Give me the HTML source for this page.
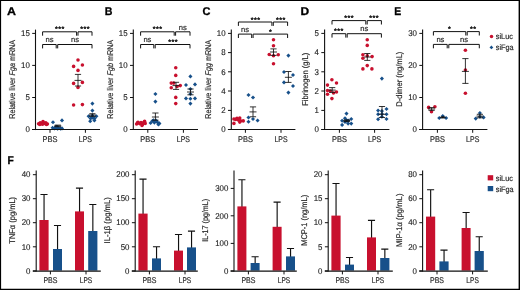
<!DOCTYPE html>
<html lang="en">
<head>
<meta charset="utf-8">
<title>Figure</title>
<style>
html,body{margin:0;padding:0;background:#fff;}
body{width:520px;height:290px;overflow:hidden;position:relative;}
svg{position:absolute;left:0;top:0;display:block;}
text{font-family:"Liberation Sans",sans-serif;text-anchor:middle;text-rendering:geometricPrecision;}
.t{fill:#2b2b2b;stroke:#2b2b2b;stroke-width:.2px;}
.k{fill:#1a1a1a;stroke:#1a1a1a;stroke-width:.12px;}
.h{fill:#000;font-weight:bold;stroke:#000;stroke-width:.3px;}
.j{stroke:#2a2a2a;stroke-linejoin:round;}
.st{fill:#1a1a1a;stroke:#1a1a1a;stroke-width:.42px;stroke-linejoin:round;letter-spacing:.45px;}
.e{text-anchor:end;}
.s{text-anchor:start;}
.l{fill:none;stroke:#111;}
.r{fill:#c8102e;}
.b{fill:#17508a;}
</style>
</head>
<body>
<svg width="520" height="290" viewBox="0 0 520 290">
<rect x="0" y="0" width="520" height="290" fill="#fff"/>
<circle class="r" cx="78" cy="60" r="1.78"/>
<circle class="r" cx="73.6" cy="66.4" r="1.78"/>
<circle class="r" cx="82.4" cy="65" r="1.78"/>
<circle class="r" cx="78" cy="70.4" r="1.78"/>
<circle class="r" cx="73.6" cy="83.4" r="1.78"/>
<circle class="r" cx="82.4" cy="82.4" r="1.78"/>
<circle class="r" cx="78" cy="87.4" r="1.78"/>
<circle class="r" cx="73.6" cy="105" r="1.78"/>
<circle class="r" cx="82.4" cy="104.6" r="1.78"/>
<path class="b" d="M92.4 101.55L94.45 103.6L92.4 105.65L90.35 103.6Z"/>
<path class="b" d="M92.4 108.55L94.45 110.6L92.4 112.65L90.35 110.6Z"/>
<path class="b" d="M88.6 114.15L90.65 116.2L88.6 118.25L86.55 116.2Z"/>
<path class="b" d="M92.4 113.55L94.45 115.6L92.4 117.65L90.35 115.6Z"/>
<path class="b" d="M96.4 114.15L98.45 116.2L96.4 118.25L94.35 116.2Z"/>
<path class="b" d="M90.6 116.35L92.65 118.4L90.6 120.45L88.55 118.4Z"/>
<path class="b" d="M94.6 116.35L96.65 118.4L94.6 120.45L92.55 118.4Z"/>
<path class="b" d="M90.2 119.15L92.25 121.2L90.2 123.25L88.15 121.2Z"/>
<path class="b" d="M94.4 118.35L96.45 120.4L94.4 122.45L92.35 120.4Z"/>
<path class="b" d="M92.4 115.55L94.45 117.6L92.4 119.65L90.35 117.6Z"/>
<circle class="r" cx="38.6" cy="123.8" r="1.78"/>
<circle class="r" cx="40.2" cy="122.8" r="1.78"/>
<circle class="r" cx="41.8" cy="123.6" r="1.78"/>
<circle class="r" cx="43" cy="121.6" r="1.78"/>
<circle class="r" cx="44.4" cy="123.4" r="1.78"/>
<circle class="r" cx="45.8" cy="122.8" r="1.78"/>
<circle class="r" cx="47.4" cy="124" r="1.78"/>
<circle class="r" cx="42.6" cy="124.2" r="1.78"/>
<circle class="r" cx="39.8" cy="124.4" r="1.78"/>
<circle class="r" cx="46.4" cy="124.4" r="1.78"/>
<path class="b" d="M53 120.15L55.05 122.2L53 124.25L50.95 122.2Z"/>
<path class="b" d="M62 118.35L64.05 120.4L62 122.45L59.95 120.4Z"/>
<path class="b" d="M52.6 125.75L54.65 127.8L52.6 129.85L50.55 127.8Z"/>
<path class="b" d="M54.6 126.35L56.65 128.4L54.6 130.45L52.55 128.4Z"/>
<path class="b" d="M56.6 124.75L58.65 126.8L56.6 128.85L54.55 126.8Z"/>
<path class="b" d="M58.6 125.95L60.65 128L58.6 130.05L56.55 128Z"/>
<path class="b" d="M60.6 126.55L62.65 128.6L60.6 130.65L58.55 128.6Z"/>
<path class="b" d="M57.6 126.75L59.65 128.8L57.6 130.85L55.55 128.8Z"/>
<path class="b" d="M55.6 125.15L57.65 127.2L55.6 129.25L53.55 127.2Z"/>
<path class="b" d="M62 126.35L64.05 128.4L62 130.45L59.95 128.4Z"/>
<circle class="r" cx="175.75" cy="67.75" r="1.78"/>
<circle class="r" cx="175.75" cy="75.4" r="1.78"/>
<circle class="r" cx="171.25" cy="83.1" r="1.78"/>
<circle class="r" cx="173.75" cy="83.1" r="1.78"/>
<circle class="r" cx="177.1" cy="86.5" r="1.78"/>
<circle class="r" cx="180.25" cy="85.6" r="1.78"/>
<circle class="r" cx="171.25" cy="87.75" r="1.78"/>
<circle class="r" cx="175.75" cy="97.4" r="1.78"/>
<circle class="r" cx="175.75" cy="103.6" r="1.78"/>
<path class="b" d="M190.4 74.35L192.45 76.4L190.4 78.45L188.35 76.4Z"/>
<path class="b" d="M186 82.95L188.05 85L186 87.05L183.95 85Z"/>
<path class="b" d="M195 82.35L197.05 84.4L195 86.45L192.95 84.4Z"/>
<path class="b" d="M190.4 86.95L192.45 89L190.4 91.05L188.35 89Z"/>
<path class="b" d="M190.4 91.95L192.45 94L190.4 96.05L188.35 94Z"/>
<path class="b" d="M186 96.35L188.05 98.4L186 100.45L183.95 98.4Z"/>
<path class="b" d="M195 96.35L197.05 98.4L195 100.45L192.95 98.4Z"/>
<path class="b" d="M190.4 96.75L192.45 98.8L190.4 100.85L188.35 98.8Z"/>
<path class="b" d="M190.4 101.55L192.45 103.6L190.4 105.65L188.35 103.6Z"/>
<path class="b" d="M155.4 91.95L157.45 94L155.4 96.05L153.35 94Z"/>
<path class="b" d="M155.4 99.55L157.45 101.6L155.4 103.65L153.35 101.6Z"/>
<path class="b" d="M150.6 120.95L152.65 123L150.6 125.05L148.55 123Z"/>
<path class="b" d="M152.4 118.95L154.45 121L152.4 123.05L150.35 121Z"/>
<path class="b" d="M154.4 120.55L156.45 122.6L154.4 124.65L152.35 122.6Z"/>
<path class="b" d="M156 118.55L158.05 120.6L156 122.65L153.95 120.6Z"/>
<path class="b" d="M157.6 120.35L159.65 122.4L157.6 124.45L155.55 122.4Z"/>
<path class="b" d="M159.4 121.35L161.45 123.4L159.4 125.45L157.35 123.4Z"/>
<path class="b" d="M153.4 118.15L155.45 120.2L153.4 122.25L151.35 120.2Z"/>
<path class="b" d="M158.4 122.35L160.45 124.4L158.4 126.45L156.35 124.4Z"/>
<circle class="r" cx="136.6" cy="124" r="1.78"/>
<circle class="r" cx="138" cy="122.4" r="1.78"/>
<circle class="r" cx="139.6" cy="123.6" r="1.78"/>
<circle class="r" cx="141" cy="122.6" r="1.78"/>
<circle class="r" cx="142.4" cy="124.4" r="1.78"/>
<circle class="r" cx="143.8" cy="122.4" r="1.78"/>
<circle class="r" cx="145.2" cy="123.4" r="1.78"/>
<circle class="r" cx="142" cy="125.4" r="1.78"/>
<circle class="r" cx="144.6" cy="121.4" r="1.78"/>
<circle class="r" cx="137.6" cy="122.8" r="1.78"/>
<circle class="r" cx="273.5" cy="39.75" r="1.78"/>
<circle class="r" cx="273.5" cy="45.75" r="1.78"/>
<circle class="r" cx="269.25" cy="54.5" r="1.78"/>
<circle class="r" cx="273.5" cy="55.75" r="1.78"/>
<circle class="r" cx="278.25" cy="54.75" r="1.78"/>
<circle class="r" cx="273.5" cy="63.75" r="1.78"/>
<path class="b" d="M288.4 53.55L290.45 55.6L288.4 57.65L286.35 55.6Z"/>
<path class="b" d="M284 69.95L286.05 72L284 74.05L281.95 72Z"/>
<path class="b" d="M293 72.95L295.05 75L293 77.05L290.95 75Z"/>
<path class="b" d="M284 80.35L286.05 82.4L284 84.45L281.95 82.4Z"/>
<path class="b" d="M293 83.95L295.05 86L293 88.05L290.95 86Z"/>
<path class="b" d="M288.4 90.55L290.45 92.6L288.4 94.65L286.35 92.6Z"/>
<path class="b" d="M248.5 92.95L250.55 95L248.5 97.05L246.45 95Z"/>
<path class="b" d="M253 95.45L255.05 97.5L253 99.55L250.95 97.5Z"/>
<path class="b" d="M248.5 115.45L250.55 117.5L248.5 119.55L246.45 117.5Z"/>
<path class="b" d="M253 116.95L255.05 119L253 121.05L250.95 119Z"/>
<path class="b" d="M257.6 118.45L259.65 120.5L257.6 122.55L255.55 120.5Z"/>
<path class="b" d="M248.5 119.7L250.55 121.75L248.5 123.8L246.45 121.75Z"/>
<circle class="r" cx="233.9" cy="119" r="1.78"/>
<circle class="r" cx="237" cy="118.4" r="1.78"/>
<circle class="r" cx="239.75" cy="118" r="1.78"/>
<circle class="r" cx="238.25" cy="120" r="1.78"/>
<circle class="r" cx="240.5" cy="120.9" r="1.78"/>
<circle class="r" cx="243.25" cy="120.9" r="1.78"/>
<circle class="r" cx="233.9" cy="123.4" r="1.78"/>
<circle class="r" cx="239.75" cy="122.1" r="1.78"/>
<circle class="r" cx="235.6" cy="119.4" r="1.78"/>
<circle class="r" cx="367.25" cy="39.75" r="1.78"/>
<circle class="r" cx="367.25" cy="45.4" r="1.78"/>
<circle class="r" cx="362.9" cy="54.75" r="1.78"/>
<circle class="r" cx="367.25" cy="55.75" r="1.78"/>
<circle class="r" cx="372.1" cy="56.6" r="1.78"/>
<circle class="r" cx="362.9" cy="58.25" r="1.78"/>
<circle class="r" cx="367.25" cy="65.6" r="1.78"/>
<circle class="r" cx="362.9" cy="68.9" r="1.78"/>
<circle class="r" cx="371.9" cy="68.9" r="1.78"/>
<path class="b" d="M381.9 76.55L383.95 78.6L381.9 80.65L379.85 78.6Z"/>
<path class="b" d="M378.1 108.45L380.15 110.5L378.1 112.55L376.05 110.5Z"/>
<path class="b" d="M381.9 109.05L383.95 111.1L381.9 113.15L379.85 111.1Z"/>
<path class="b" d="M386.5 106.95L388.55 109L386.5 111.05L384.45 109Z"/>
<path class="b" d="M378.1 112.2L380.15 114.25L378.1 116.3L376.05 114.25Z"/>
<path class="b" d="M381.9 114.7L383.95 116.75L381.9 118.8L379.85 116.75Z"/>
<path class="b" d="M386.5 112.2L388.55 114.25L386.5 116.3L384.45 114.25Z"/>
<path class="b" d="M378.1 117.2L380.15 119.25L378.1 121.3L376.05 119.25Z"/>
<path class="b" d="M386.5 116.95L388.55 119L386.5 121.05L384.45 119Z"/>
<path class="b" d="M382 111.95L384.05 114L382 116.05L379.95 114Z"/>
<circle class="r" cx="331.9" cy="79.75" r="1.78"/>
<circle class="r" cx="336.5" cy="83" r="1.78"/>
<circle class="r" cx="327.5" cy="85.1" r="1.78"/>
<circle class="r" cx="327.5" cy="90.5" r="1.78"/>
<circle class="r" cx="330.25" cy="91" r="1.78"/>
<circle class="r" cx="333.5" cy="93" r="1.78"/>
<circle class="r" cx="336.5" cy="92" r="1.78"/>
<circle class="r" cx="327.5" cy="94.25" r="1.78"/>
<circle class="r" cx="331.9" cy="98.6" r="1.78"/>
<path class="b" d="M346.5 111.55L348.55 113.6L346.5 115.65L344.45 113.6Z"/>
<path class="b" d="M345 116.2L347.05 118.25L345 120.3L342.95 118.25Z"/>
<path class="b" d="M351.25 116.95L353.3 119L351.25 121.05L349.2 119Z"/>
<path class="b" d="M342.1 118.7L344.15 120.75L342.1 122.8L340.05 120.75Z"/>
<path class="b" d="M348.1 118.45L350.15 120.5L348.1 122.55L346.05 120.5Z"/>
<path class="b" d="M345 119.95L347.05 122L345 124.05L342.95 122Z"/>
<path class="b" d="M348.1 121.55L350.15 123.6L348.1 125.65L346.05 123.6Z"/>
<path class="b" d="M351.25 121.55L353.3 123.6L351.25 125.65L349.2 123.6Z"/>
<path class="b" d="M342.1 122.85L344.15 124.9L342.1 126.95L340.05 124.9Z"/>
<path class="b" d="M346.6 118.35L348.65 120.4L346.6 122.45L344.55 120.4Z"/>
<circle class="r" cx="465.4" cy="50.2" r="1.78"/>
<circle class="r" cx="465.4" cy="70" r="1.78"/>
<circle class="r" cx="465.4" cy="93.2" r="1.78"/>
<path class="b" d="M475.75 116.55L477.8 118.6L475.75 120.65L473.7 118.6Z"/>
<path class="b" d="M479.9 110.95L481.95 113L479.9 115.05L477.85 113Z"/>
<path class="b" d="M483.6 115.35L485.65 117.4L483.6 119.45L481.55 117.4Z"/>
<path class="b" d="M479.9 114.7L481.95 116.75L479.9 118.8L477.85 116.75Z"/>
<circle class="r" cx="428.6" cy="107.4" r="1.78"/>
<circle class="r" cx="434.9" cy="106.75" r="1.78"/>
<circle class="r" cx="431.5" cy="111.75" r="1.78"/>
<path class="b" d="M439.25 115.95L441.3 118L439.25 120.05L437.2 118Z"/>
<path class="b" d="M442.75 114.05L444.8 116.1L442.75 118.15L440.7 116.1Z"/>
<path class="b" d="M446.1 115.95L448.15 118L446.1 120.05L444.05 118Z"/>
<circle class="r" cx="491.5" cy="36.6" r="1.75"/>
<path class="b" d="M491.4 45.5L493.3 47.4L491.4 49.3L489.5 47.4Z"/>
<path class="l" d="M74.5 80.4H81.5M78 74.4V86M74.9 74.4H81.1M74.9 86H81.1" stroke-width="0.85"/>
<path class="l" d="M88.9 115H95.9M92.4 113.7V116.4M89.3 113.7H95.5M89.3 116.4H95.5" stroke-width="0.85"/>
<path class="l" d="M54.3 125.9H61.3M57.8 125.1V126.7M54.7 125.1H60.9M54.7 126.7H60.9" stroke-width="0.85"/>
<path class="l" d="M172.5 85.6H179.5M176 82.3V89.4M172.9 82.3H179.1M172.9 89.4H179.1" stroke-width="0.85"/>
<path class="l" d="M187 92H194M190.5 89V94.8M187.4 89H193.6M187.4 94.8H193.6" stroke-width="0.85"/>
<path class="l" d="M151.9 117H158.9M155.4 113V120.2M152.3 113H158.5M152.3 120.2H158.5" stroke-width="0.85"/>
<path class="l" d="M270 52H277M273.5 48.9V55.4M270.4 48.9H276.6M270.4 55.4H276.6" stroke-width="0.85"/>
<path class="l" d="M284.9 77.3H291.9M288.4 71.5V82.4M285.3 71.5H291.5M285.3 82.4H291.5" stroke-width="0.85"/>
<path class="l" d="M249.5 111.9H256.5M253 106.9V116.75M249.9 106.9H256.1M249.9 116.75H256.1" stroke-width="0.85"/>
<path class="l" d="M363.8 57H370.8M367.3 53.5V60.4M364.2 53.5H370.4M364.2 60.4H370.4" stroke-width="0.85"/>
<path class="l" d="M378.5 114.25H385.5M382 106.5V117.5M378.9 106.5H385.1M378.9 117.5H385.1" stroke-width="0.85"/>
<path class="l" d="M328.7 90.1H335.7M332.2 87.6V92.4M329.1 87.6H335.3M329.1 92.4H335.3" stroke-width="0.85"/>
<path class="l" d="M343.3 120.75H350.3M346.8 119.9V121.6M343.7 119.9H349.9M343.7 121.6H349.9" stroke-width="0.85"/>
<path class="l" d="M461.9 71.4H468.9M465.4 58.6V83.4M462.3 58.6H468.5M462.3 83.4H468.5" stroke-width="0.85"/>
<path class="l" d="M476.4 116.1H483.4M479.9 114.3V117.8M476.8 114.3H483M476.8 117.8H483" stroke-width="0.85"/>
<path class="l" d="M428.1 109H435.1M431.6 107.6V110.4M428.5 107.6H434.7M428.5 110.4H434.7" stroke-width="0.85"/>
<path class="l" d="M439.8 117.4H445.8M442.8 116.8V118M440.8 116.8H444.8M440.8 118H444.8" stroke-width="0.85"/>
<text class="h s" transform="translate(7,15.1) scale(1.11,1)" font-size="11.2">A</text>
<text class="h s" transform="translate(104.7,15.1) scale(0.95,1)" font-size="11.2">B</text>
<text class="h s" transform="translate(202.45,15.1) scale(0.98,1)" font-size="11.2">C</text>
<text class="h s" transform="translate(300.4,15.1) scale(1.07,1)" font-size="11.2">D</text>
<text class="h s" transform="translate(394.2,15.1) scale(0.93,1)" font-size="11.2">E</text>
<text class="h s" transform="translate(7.5,164.3) scale(0.92,1)" font-size="11.2">F</text>
<path class="l" d="M35.5 29.6L35.5 130.05" stroke-width="1.1"/>
<path class="l" d="M32.2 33.4L35.5 33.4" stroke-width="1.0"/>
<text class="k e" transform="translate(29.8,36.1) scale(0.95,1)" font-size="8.3">15</text>
<path class="l" d="M32.2 65.4L35.5 65.4" stroke-width="1.0"/>
<text class="k e" transform="translate(29.8,68.1) scale(0.95,1)" font-size="8.3">10</text>
<path class="l" d="M32.2 97.5L35.5 97.5" stroke-width="1.0"/>
<text class="k e" transform="translate(29.8,100.2) scale(0.95,1)" font-size="8.3">5</text>
<path class="l" d="M32.2 129.5L35.5 129.5" stroke-width="1.0"/>
<text class="k e" transform="translate(29.8,132.2) scale(0.95,1)" font-size="8.3">0</text>
<path class="l" d="M32.1 129.5L100 129.5" stroke-width="1.1"/>
<path class="l" d="M50 129.5L50 132.8" stroke-width="1.0"/>
<text class="t" transform="translate(50,141.8) scale(0.897,1)" font-size="8.3">PBS</text>
<path class="l" d="M85.4 129.5L85.4 132.8" stroke-width="1.0"/>
<text class="t" transform="translate(85.4,141.8) scale(0.841,1)" font-size="8.3">LPS</text>
<text class="t" transform="translate(15.2,79.3) rotate(-90) scale(0.869,1)" font-size="8.3">Relative liver <tspan font-style="italic">Fga</tspan> mRNA</text>
<path class="l j" d="M42.6 35.7V31.8H76.6V35.7" stroke-width="1.0"/>
<path class="l j" d="M78 35.7V31.8H92V35.7" stroke-width="1.0"/>
<path class="l j" d="M42.6 48.4V44.5H56.2V48.4" stroke-width="1.0"/>
<path class="l j" d="M57.7 48.4V44.5H92V48.4" stroke-width="1.0"/>
<text class="st" transform="translate(59.8,31.42) scale(1.08,1)" font-size="6.6">***</text>
<text class="st" transform="translate(85.2,31.42) scale(1.08,1)" font-size="6.6">***</text>
<text class="t" transform="translate(49.6,42)" font-size="7.6">ns</text>
<text class="t" transform="translate(75,42)" font-size="7.6">ns</text>
<path class="l" d="M133.3 29.6L133.3 130.05" stroke-width="1.1"/>
<path class="l" d="M130 33.4L133.3 33.4" stroke-width="1.0"/>
<text class="k e" transform="translate(127.6,36.1) scale(0.95,1)" font-size="8.3">15</text>
<path class="l" d="M130 65.4L133.3 65.4" stroke-width="1.0"/>
<text class="k e" transform="translate(127.6,68.1) scale(0.95,1)" font-size="8.3">10</text>
<path class="l" d="M130 97.5L133.3 97.5" stroke-width="1.0"/>
<text class="k e" transform="translate(127.6,100.2) scale(0.95,1)" font-size="8.3">5</text>
<path class="l" d="M130 129.5L133.3 129.5" stroke-width="1.0"/>
<text class="k e" transform="translate(127.6,132.2) scale(0.95,1)" font-size="8.3">0</text>
<path class="l" d="M129.9 129.5L198 129.5" stroke-width="1.1"/>
<path class="l" d="M147.8 129.5L147.8 132.8" stroke-width="1.0"/>
<text class="t" transform="translate(147.8,141.8) scale(0.897,1)" font-size="8.3">PBS</text>
<path class="l" d="M183.4 129.5L183.4 132.8" stroke-width="1.0"/>
<text class="t" transform="translate(183.4,141.8) scale(0.841,1)" font-size="8.3">LPS</text>
<text class="t" transform="translate(113,79.3) rotate(-90) scale(0.869,1)" font-size="8.3">Relative liver <tspan font-style="italic">Fgb</tspan> mRNA</text>
<path class="l j" d="M140.6 35.7V31.8H174.2V35.7" stroke-width="1.0"/>
<path class="l j" d="M175.6 35.7V31.8H190V35.7" stroke-width="1.0"/>
<path class="l j" d="M140.6 48.4V44.5H153.8V48.4" stroke-width="1.0"/>
<path class="l j" d="M155.2 48.4V44.5H190V48.4" stroke-width="1.0"/>
<text class="st" transform="translate(157.6,31.42) scale(1.08,1)" font-size="6.6">***</text>
<text class="t" transform="translate(182.8,29.8)" font-size="7.6">ns</text>
<text class="t" transform="translate(147.4,42)" font-size="7.6">ns</text>
<text class="st" transform="translate(173.2,44.02) scale(1.08,1)" font-size="6.6">***</text>
<path class="l" d="M231.3 29.6L231.3 130.05" stroke-width="1.1"/>
<path class="l" d="M228 33.4L231.3 33.4" stroke-width="1.0"/>
<text class="k e" transform="translate(225.6,36.1) scale(0.95,1)" font-size="8.3">10</text>
<path class="l" d="M228 52.6L231.3 52.6" stroke-width="1.0"/>
<text class="k e" transform="translate(225.6,55.3) scale(0.95,1)" font-size="8.3">8</text>
<path class="l" d="M228 71.8L231.3 71.8" stroke-width="1.0"/>
<text class="k e" transform="translate(225.6,74.5) scale(0.95,1)" font-size="8.3">6</text>
<path class="l" d="M228 91L231.3 91" stroke-width="1.0"/>
<text class="k e" transform="translate(225.6,93.7) scale(0.95,1)" font-size="8.3">4</text>
<path class="l" d="M228 110.4L231.3 110.4" stroke-width="1.0"/>
<text class="k e" transform="translate(225.6,113.1) scale(0.95,1)" font-size="8.3">2</text>
<path class="l" d="M228 129.5L231.3 129.5" stroke-width="1.0"/>
<text class="k e" transform="translate(225.6,132.2) scale(0.95,1)" font-size="8.3">0</text>
<path class="l" d="M227.9 129.5L295.4 129.5" stroke-width="1.1"/>
<path class="l" d="M245.4 129.5L245.4 132.8" stroke-width="1.0"/>
<text class="t" transform="translate(245.4,141.8) scale(0.897,1)" font-size="8.3">PBS</text>
<path class="l" d="M281 129.5L281 132.8" stroke-width="1.0"/>
<text class="t" transform="translate(281,141.8) scale(0.841,1)" font-size="8.3">LPS</text>
<text class="t" transform="translate(211,79.3) rotate(-90) scale(0.869,1)" font-size="8.3">Relative liver <tspan font-style="italic">Fgg</tspan> mRNA</text>
<path class="l j" d="M238.4 25.9V22H271.9V25.9" stroke-width="1.0"/>
<path class="l j" d="M273.3 25.9V22H287.6V25.9" stroke-width="1.0"/>
<path class="l j" d="M238.4 38V34.1H251.7V38" stroke-width="1.0"/>
<path class="l j" d="M253.1 38V34.1H287.6V38" stroke-width="1.0"/>
<text class="st" transform="translate(255.6,21.92) scale(1.08,1)" font-size="6.6">***</text>
<text class="st" transform="translate(280.8,21.92) scale(1.08,1)" font-size="6.6">***</text>
<text class="t" transform="translate(245.1,32)" font-size="7.6">ns</text>
<text class="st" transform="translate(270.6,33.72) scale(1.08,1)" font-size="6.6">*</text>
<path class="l" d="M324.6 29.6L324.6 130.05" stroke-width="1.1"/>
<path class="l" d="M321.3 33.4L324.6 33.4" stroke-width="1.0"/>
<text class="k e" transform="translate(318.9,36.1) scale(0.95,1)" font-size="8.3">5</text>
<path class="l" d="M321.3 52.6L324.6 52.6" stroke-width="1.0"/>
<text class="k e" transform="translate(318.9,55.3) scale(0.95,1)" font-size="8.3">4</text>
<path class="l" d="M321.3 71.8L324.6 71.8" stroke-width="1.0"/>
<text class="k e" transform="translate(318.9,74.5) scale(0.95,1)" font-size="8.3">3</text>
<path class="l" d="M321.3 91L324.6 91" stroke-width="1.0"/>
<text class="k e" transform="translate(318.9,93.7) scale(0.95,1)" font-size="8.3">2</text>
<path class="l" d="M321.3 110.4L324.6 110.4" stroke-width="1.0"/>
<text class="k e" transform="translate(318.9,113.1) scale(0.95,1)" font-size="8.3">1</text>
<path class="l" d="M321.3 129.5L324.6 129.5" stroke-width="1.0"/>
<text class="k e" transform="translate(318.9,132.2) scale(0.95,1)" font-size="8.3">0</text>
<path class="l" d="M321.2 129.5L389.4 129.5" stroke-width="1.1"/>
<path class="l" d="M339.4 129.5L339.4 132.8" stroke-width="1.0"/>
<text class="t" transform="translate(339.4,141.8) scale(0.897,1)" font-size="8.3">PBS</text>
<path class="l" d="M374.6 129.5L374.6 132.8" stroke-width="1.0"/>
<text class="t" transform="translate(374.6,141.8) scale(0.841,1)" font-size="8.3">LPS</text>
<text class="t" transform="translate(308.2,79.3) rotate(-90) scale(0.905,1)" font-size="8.3">Fibrinogen (g/L)</text>
<path class="l j" d="M332 24.5V20.6H365.8V24.5" stroke-width="1.0"/>
<path class="l j" d="M367.2 24.5V20.6H381.4V24.5" stroke-width="1.0"/>
<path class="l j" d="M332 37.6V33.7H345.8V37.6" stroke-width="1.0"/>
<path class="l j" d="M347.2 37.6V33.7H381.4V37.6" stroke-width="1.0"/>
<text class="st" transform="translate(349.2,20.22) scale(1.08,1)" font-size="6.6">***</text>
<text class="st" transform="translate(374.2,20.22) scale(1.08,1)" font-size="6.6">***</text>
<text class="st" transform="translate(338.8,33.12) scale(1.08,1)" font-size="6.6">***</text>
<text class="t" transform="translate(364.3,31)" font-size="7.6">ns</text>
<path class="l" d="M422.6 29.6L422.6 130.05" stroke-width="1.1"/>
<path class="l" d="M419.3 33.4L422.6 33.4" stroke-width="1.0"/>
<text class="k e" transform="translate(416.9,36.1) scale(0.95,1)" font-size="8.3">30</text>
<path class="l" d="M419.3 65.4L422.6 65.4" stroke-width="1.0"/>
<text class="k e" transform="translate(416.9,68.1) scale(0.95,1)" font-size="8.3">20</text>
<path class="l" d="M419.3 97.5L422.6 97.5" stroke-width="1.0"/>
<text class="k e" transform="translate(416.9,100.2) scale(0.95,1)" font-size="8.3">10</text>
<path class="l" d="M419.3 129.5L422.6 129.5" stroke-width="1.0"/>
<text class="k e" transform="translate(416.9,132.2) scale(0.95,1)" font-size="8.3">0</text>
<path class="l" d="M419.2 129.5L487.4 129.5" stroke-width="1.1"/>
<path class="l" d="M437.4 129.5L437.4 132.8" stroke-width="1.0"/>
<text class="t" transform="translate(437.4,141.8) scale(0.897,1)" font-size="8.3">PBS</text>
<path class="l" d="M472.7 129.5L472.7 132.8" stroke-width="1.0"/>
<text class="t" transform="translate(472.7,141.8) scale(0.841,1)" font-size="8.3">LPS</text>
<text class="t" transform="translate(402,79.2) rotate(-90) scale(0.914,1)" font-size="8.3">D-dimer (ng/mL)</text>
<path class="l j" d="M433.4 35.5V31.6H465.8V35.5" stroke-width="1.0"/>
<path class="l j" d="M467.2 35.5V31.6H479.3V35.5" stroke-width="1.0"/>
<path class="l j" d="M433.4 48.3V44.4H447.2V48.3" stroke-width="1.0"/>
<path class="l j" d="M448.8 48.3V44.4H479.3V48.3" stroke-width="1.0"/>
<text class="st" transform="translate(449.6,31.12) scale(1.08,1)" font-size="6.6">*</text>
<text class="st" transform="translate(473.2,31.12) scale(1.08,1)" font-size="6.6">**</text>
<text class="t" transform="translate(440.4,42)" font-size="7.6">ns</text>
<text class="t" transform="translate(464,42)" font-size="7.6">ns</text>
<text class="t s" transform="translate(495.8,39.4) scale(0.945,1)" font-size="7.8">siLuc</text>
<text class="t s" transform="translate(495.8,50.2) scale(0.933,1)" font-size="7.8">siFga</text>
<path class="l" d="M44.05 194.5V220.5M40.45 194.5H47.55" stroke-width="1.15"/>
<rect class="r" x="39.4" y="220" width="9.2" height="50.6"/>
<path class="l" d="M57.55 225.5V249.5M53.95 225.5H61.05" stroke-width="1.15"/>
<rect class="b" x="53" y="249" width="9" height="21.6"/>
<path class="l" d="M79.55 188.1V211.9M75.95 188.1H83.05" stroke-width="1.15"/>
<rect class="r" x="75" y="211.4" width="9" height="59.2"/>
<path class="l" d="M92.85 204.5V231.5M89.25 204.5H96.35" stroke-width="1.15"/>
<rect class="b" x="88.2" y="231" width="9.2" height="39.6"/>
<path class="l" d="M36.2 170.4L36.2 271.45" stroke-width="1.1"/>
<path class="l" d="M32.9 174.7L36.2 174.7" stroke-width="1.0"/>
<text class="k e" transform="translate(30.5,177.45) scale(0.95,1)" font-size="8.3">40</text>
<path class="l" d="M32.9 198.7L36.2 198.7" stroke-width="1.0"/>
<text class="k e" transform="translate(30.5,201.45) scale(0.95,1)" font-size="8.3">30</text>
<path class="l" d="M32.9 222.7L36.2 222.7" stroke-width="1.0"/>
<text class="k e" transform="translate(30.5,225.45) scale(0.95,1)" font-size="8.3">20</text>
<path class="l" d="M32.9 246.8L36.2 246.8" stroke-width="1.0"/>
<text class="k e" transform="translate(30.5,249.55) scale(0.95,1)" font-size="8.3">10</text>
<path class="l" d="M32.9 270.9L36.2 270.9" stroke-width="1.0"/>
<text class="k e" transform="translate(30.5,273.65) scale(0.95,1)" font-size="8.3">0</text>
<path class="l" d="M32.8 271.1L100.8 271.1" stroke-width="1.1"/>
<path class="l" d="M50.4 271.1L50.4 274.4" stroke-width="1.0"/>
<text class="t" transform="translate(50.4,283.2) scale(0.843,1)" font-size="8.3">PBS</text>
<path class="l" d="M86 271.1L86 274.4" stroke-width="1.0"/>
<text class="t" transform="translate(86,283.2) scale(0.797,1)" font-size="8.3">LPS</text>
<text class="t" transform="translate(15.2,220.3) rotate(-90) scale(0.903,1)" font-size="8.3">TNF&#945; (pg/mL)</text>
<path class="l" d="M143.05 179.1V214.1M139.45 179.1H146.55" stroke-width="1.15"/>
<rect class="r" x="138.4" y="213.6" width="9.2" height="57"/>
<path class="l" d="M156.55 246.7V258.9M152.95 246.7H160.05" stroke-width="1.15"/>
<rect class="b" x="152" y="258.4" width="9" height="12.2"/>
<path class="l" d="M178.55 234.5V251.1M174.95 234.5H182.05" stroke-width="1.15"/>
<rect class="r" x="174" y="250.6" width="9" height="20"/>
<path class="l" d="M191.55 231.1V247.9M187.95 231.1H195.05" stroke-width="1.15"/>
<rect class="b" x="187" y="247.4" width="9" height="23.2"/>
<path class="l" d="M135.2 170.4L135.2 271.45" stroke-width="1.1"/>
<path class="l" d="M131.9 174.7L135.2 174.7" stroke-width="1.0"/>
<text class="k e" transform="translate(129.5,177.45) scale(0.95,1)" font-size="8.3">200</text>
<path class="l" d="M131.9 198.7L135.2 198.7" stroke-width="1.0"/>
<text class="k e" transform="translate(129.5,201.45) scale(0.95,1)" font-size="8.3">150</text>
<path class="l" d="M131.9 222.7L135.2 222.7" stroke-width="1.0"/>
<text class="k e" transform="translate(129.5,225.45) scale(0.95,1)" font-size="8.3">100</text>
<path class="l" d="M131.9 246.8L135.2 246.8" stroke-width="1.0"/>
<text class="k e" transform="translate(129.5,249.55) scale(0.95,1)" font-size="8.3">50</text>
<path class="l" d="M131.9 270.9L135.2 270.9" stroke-width="1.0"/>
<text class="k e" transform="translate(129.5,273.65) scale(0.95,1)" font-size="8.3">0</text>
<path class="l" d="M131.8 271.1L197.8 271.1" stroke-width="1.1"/>
<path class="l" d="M149.4 271.1L149.4 274.4" stroke-width="1.0"/>
<text class="t" transform="translate(149.4,283.2) scale(0.843,1)" font-size="8.3">PBS</text>
<path class="l" d="M185 271.1L185 274.4" stroke-width="1.0"/>
<text class="t" transform="translate(185,283.2) scale(0.797,1)" font-size="8.3">LPS</text>
<text class="t" transform="translate(109.7,220.3) rotate(-90) scale(0.924,1)" font-size="8.3">IL-1&#946; (pg/mL)</text>
<path class="l" d="M241.95 179.7V206.9M238.35 179.7H245.45" stroke-width="1.15"/>
<rect class="r" x="237.4" y="206.4" width="9" height="64.2"/>
<path class="l" d="M255.15 256.7V263.5M251.55 256.7H258.65" stroke-width="1.15"/>
<rect class="b" x="250.6" y="263" width="9" height="7.6"/>
<path class="l" d="M277.15 202.1V227.3M273.55 202.1H280.65" stroke-width="1.15"/>
<rect class="r" x="272.6" y="226.8" width="9" height="43.8"/>
<path class="l" d="M290.55 248.5V256.9M286.95 248.5H294.05" stroke-width="1.15"/>
<rect class="b" x="286" y="256.4" width="9" height="14.2"/>
<path class="l" d="M234 170.4L234 271.45" stroke-width="1.1"/>
<path class="l" d="M230.7 188.4L234 188.4" stroke-width="1.0"/>
<text class="k e" transform="translate(228.3,191.15) scale(0.95,1)" font-size="8.3">300</text>
<path class="l" d="M230.7 215.8L234 215.8" stroke-width="1.0"/>
<text class="k e" transform="translate(228.3,218.55) scale(0.95,1)" font-size="8.3">200</text>
<path class="l" d="M230.7 243.4L234 243.4" stroke-width="1.0"/>
<text class="k e" transform="translate(228.3,246.15) scale(0.95,1)" font-size="8.3">100</text>
<path class="l" d="M230.7 270.9L234 270.9" stroke-width="1.0"/>
<text class="k e" transform="translate(228.3,273.65) scale(0.95,1)" font-size="8.3">0</text>
<path class="l" d="M230.6 271.1L296.8 271.1" stroke-width="1.1"/>
<path class="l" d="M248.4 271.1L248.4 274.4" stroke-width="1.0"/>
<text class="t" transform="translate(248.4,283.2) scale(0.843,1)" font-size="8.3">PBS</text>
<path class="l" d="M284 271.1L284 274.4" stroke-width="1.0"/>
<text class="t" transform="translate(284,283.2) scale(0.797,1)" font-size="8.3">LPS</text>
<text class="t" transform="translate(207.8,220.3) rotate(-90) scale(0.863,1)" font-size="8.3">IL-17 (pg/mL)</text>
<path class="l" d="M336.05 183.5V216.1M332.45 183.5H339.55" stroke-width="1.15"/>
<rect class="r" x="331.4" y="215.6" width="9.2" height="55"/>
<path class="l" d="M349.55 257.5V265.1M345.95 257.5H353.05" stroke-width="1.15"/>
<rect class="b" x="345" y="264.6" width="9" height="6"/>
<path class="l" d="M371.55 220.3V237.9M367.95 220.3H375.05" stroke-width="1.15"/>
<rect class="r" x="367" y="237.4" width="9" height="33.2"/>
<path class="l" d="M384.85 249.1V258.5M381.25 249.1H388.35" stroke-width="1.15"/>
<rect class="b" x="380.2" y="258" width="9.2" height="12.6"/>
<path class="l" d="M328.2 170.4L328.2 271.45" stroke-width="1.1"/>
<path class="l" d="M324.9 174.7L328.2 174.7" stroke-width="1.0"/>
<text class="k e" transform="translate(322.5,177.45) scale(0.95,1)" font-size="8.3">20</text>
<path class="l" d="M324.9 198.7L328.2 198.7" stroke-width="1.0"/>
<text class="k e" transform="translate(322.5,201.45) scale(0.95,1)" font-size="8.3">15</text>
<path class="l" d="M324.9 222.7L328.2 222.7" stroke-width="1.0"/>
<text class="k e" transform="translate(322.5,225.45) scale(0.95,1)" font-size="8.3">10</text>
<path class="l" d="M324.9 246.8L328.2 246.8" stroke-width="1.0"/>
<text class="k e" transform="translate(322.5,249.55) scale(0.95,1)" font-size="8.3">5</text>
<path class="l" d="M324.9 270.9L328.2 270.9" stroke-width="1.0"/>
<text class="k e" transform="translate(322.5,273.65) scale(0.95,1)" font-size="8.3">0</text>
<path class="l" d="M324.8 271.1L392.8 271.1" stroke-width="1.1"/>
<path class="l" d="M342.4 271.1L342.4 274.4" stroke-width="1.0"/>
<text class="t" transform="translate(342.4,283.2) scale(0.843,1)" font-size="8.3">PBS</text>
<path class="l" d="M378 271.1L378 274.4" stroke-width="1.0"/>
<text class="t" transform="translate(378,283.2) scale(0.797,1)" font-size="8.3">LPS</text>
<text class="t" transform="translate(307.2,220.3) rotate(-90) scale(0.899,1)" font-size="8.3">MCP-1 (ng/mL)</text>
<path class="l" d="M430.65 189.7V217.1M427.05 189.7H434.15" stroke-width="1.15"/>
<rect class="r" x="426" y="216.6" width="9.2" height="54"/>
<path class="l" d="M444.05 250.1V261.9M440.45 250.1H447.55" stroke-width="1.15"/>
<rect class="b" x="439.4" y="261.4" width="9.2" height="9.2"/>
<path class="l" d="M466.15 212.5V228.5M462.55 212.5H469.65" stroke-width="1.15"/>
<rect class="r" x="461.6" y="228" width="9" height="42.6"/>
<path class="l" d="M479.25 236.7V251.5M475.65 236.7H482.75" stroke-width="1.15"/>
<rect class="b" x="474.6" y="251" width="9.2" height="19.6"/>
<path class="l" d="M422.6 170.4L422.6 271.45" stroke-width="1.1"/>
<path class="l" d="M419.3 174.7L422.6 174.7" stroke-width="1.0"/>
<text class="k e" transform="translate(416.9,177.45) scale(0.95,1)" font-size="8.3">80</text>
<path class="l" d="M419.3 198.7L422.6 198.7" stroke-width="1.0"/>
<text class="k e" transform="translate(416.9,201.45) scale(0.95,1)" font-size="8.3">60</text>
<path class="l" d="M419.3 222.7L422.6 222.7" stroke-width="1.0"/>
<text class="k e" transform="translate(416.9,225.45) scale(0.95,1)" font-size="8.3">40</text>
<path class="l" d="M419.3 246.8L422.6 246.8" stroke-width="1.0"/>
<text class="k e" transform="translate(416.9,249.55) scale(0.95,1)" font-size="8.3">20</text>
<path class="l" d="M419.3 270.9L422.6 270.9" stroke-width="1.0"/>
<text class="k e" transform="translate(416.9,273.65) scale(0.95,1)" font-size="8.3">0</text>
<path class="l" d="M419.2 271.1L487.8 271.1" stroke-width="1.1"/>
<path class="l" d="M437 271.1L437 274.4" stroke-width="1.0"/>
<text class="t" transform="translate(437,283.2) scale(0.843,1)" font-size="8.3">PBS</text>
<path class="l" d="M472.6 271.1L472.6 274.4" stroke-width="1.0"/>
<text class="t" transform="translate(472.6,283.2) scale(0.797,1)" font-size="8.3">LPS</text>
<text class="t" transform="translate(402.2,220.3) rotate(-90) scale(0.925,1)" font-size="8.3">MIP-1&#945; (pg/mL)</text>
<rect class="r" x="487.7" y="175.2" width="5.5" height="5.2"/>
<rect class="b" x="487.7" y="186" width="5.5" height="5.2"/>
<text class="t s" transform="translate(495.8,180.7) scale(0.945,1)" font-size="7.8">siLuc</text>
<text class="t s" transform="translate(495.8,191.5) scale(0.933,1)" font-size="7.8">siFga</text>
<path d="M0 0H520V290H0ZM1.1 1.05V288.85H518.6V1.05Z" fill="#000" fill-rule="evenodd"/>
</svg>
</body>
</html>
